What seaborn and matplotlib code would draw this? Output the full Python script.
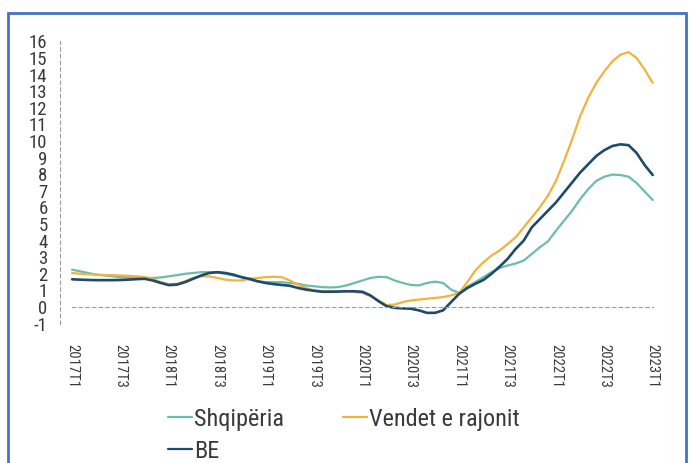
import matplotlib
matplotlib.use("Agg")
import matplotlib.pyplot as plt
import numpy as np
import pandas as pd
import seaborn as sns
from matplotlib.patches import Rectangle
from matplotlib import font_manager

# monthly index 0 = 2017 Jan ... 72 = 2023 Jan
months = list(range(73))

shqiperia = [2.25, 2.15, 2.05, 1.95, 1.9, 1.85, 1.8, 1.78, 1.76, 1.75,
             1.75, 1.78, 1.85, 1.92, 2.0, 2.05, 2.1, 2.1, 2.08, 2.0,
             1.9, 1.8, 1.65, 1.55, 1.5, 1.5, 1.5, 1.45, 1.4, 1.3,
             1.25, 1.2, 1.18, 1.2, 1.3, 1.45, 1.6, 1.75, 1.82, 1.8,
             1.6, 1.45, 1.33, 1.3, 1.45, 1.53, 1.45, 1.05, 0.85, 1.22,
             1.5, 1.8, 2.1, 2.35, 2.5, 2.62, 2.8, 3.2, 3.6, 3.95,
             4.6, 5.2, 5.8, 6.5, 7.1, 7.6, 7.85, 7.98, 7.95, 7.85,
             7.47, 6.95, 6.45]

vendet = [2.05, 2.0, 1.97, 1.95, 1.93, 1.92, 1.9, 1.88, 1.85, 1.8,
          1.7, 1.5, 1.38, 1.4, 1.55, 1.75, 1.85, 1.85, 1.75, 1.65,
          1.6, 1.6, 1.7, 1.75, 1.8, 1.82, 1.8, 1.6, 1.35, 1.15,
          1.0, 0.97, 0.95, 0.95, 0.95, 0.9, 0.85, 0.65, 0.4, 0.12,
          0.15, 0.3, 0.4, 0.45, 0.5, 0.55, 0.6, 0.7, 0.85, 1.5,
          2.2, 2.7, 3.1, 3.4, 3.8, 4.2, 4.8, 5.4, 6.0, 6.7,
          7.6, 8.8, 10.1, 11.5, 12.6, 13.5, 14.2, 14.8, 15.2, 15.35,
          15.0, 14.3, 13.5]

be = [1.67, 1.65, 1.63, 1.62, 1.62, 1.62, 1.63, 1.65, 1.68, 1.7,
      1.6, 1.45, 1.32, 1.35, 1.5, 1.7, 1.9, 2.05, 2.1, 2.05,
      1.95, 1.8, 1.7, 1.55, 1.45, 1.38, 1.33, 1.28, 1.15, 1.05,
      0.98, 0.92, 0.92, 0.93, 0.95, 0.95, 0.92, 0.7, 0.35, 0.05,
      -0.05, -0.08, -0.1, -0.2, -0.35, -0.35, -0.2, 0.3, 0.8, 1.14,
      1.4, 1.63, 2.0, 2.43, 2.9, 3.5, 4.0, 4.8, 5.3, 5.8,
      6.3, 6.9, 7.5, 8.1, 8.6, 9.1, 9.45, 9.7, 9.8, 9.75,
      9.28, 8.55, 7.95]

tick_labels = ["2017T1", "2017T3", "2018T1", "2018T3", "2019T1", "2019T3",
               "2020T1", "2020T3", "2021T1", "2021T3", "2022T1", "2022T3",
               "2023T1"]

series_names = ["Shqipëria", "Vendet e rajonit", "BE"]
colors = {"Shqipëria": "#6cbcae", "Vendet e rajonit": "#f2b23e", "BE": "#1e4a6b"}

df = pd.DataFrame({
    "month": months * 3,
    "value": shqiperia + vendet + be,
    "seria": [series_names[0]] * 73 + [series_names[1]] * 73 + [series_names[2]] * 73,
})

sns.set_style("white")

# look for a narrow font, the original uses a condensed face
names = {f.name for f in font_manager.fontManager.ttflist}
narrow_family = None
for cand in ["Liberation Sans Narrow", "Roboto Condensed", "Open Sans Condensed",
             "DejaVu Sans Condensed", "Noto Sans Condensed"]:
    if cand in names:
        narrow_family = cand
        break
if narrow_family is None:
    narrow_family = "DejaVu Sans"
plt.rcParams["font.family"] = [narrow_family, "DejaVu Sans"]
plt.rcParams["font.stretch"] = "condensed"
text_color = "#3a3a3a"

fig = plt.figure(figsize=(6.91, 4.63), dpi=100)
ax = fig.add_axes([60 / 691, 1 - 325.3 / 463, 600 / 691, (325.3 - 36.4) / 463])

sns.lineplot(data=df, x="month", y="value", hue="seria", palette=colors,
             hue_order=series_names, ax=ax, linewidth=1.6, legend=False)
for line in ax.lines:
    if line.get_color() == colors["BE"]:
        line.set_linewidth(1.9)

ax.set_xlim(-1.5, 72.9)
ax.set_ylim(-1.1, 16.3)
ax.set_xlabel("")
ax.set_ylabel("")

for s in ["top", "right"]:
    ax.spines[s].set_visible(False)
ax.spines["left"].set_linestyle((0, (3, 3)))
ax.spines["left"].set_color("#9a9a9a")
ax.spines["left"].set_linewidth(0.8)
ax.spines["left"].set_bounds(-1, 16)
ax.spines["bottom"].set_position(("data", 0))
ax.spines["bottom"].set_linestyle((0, (3, 3)))
ax.spines["bottom"].set_color("#9a9a9a")
ax.spines["bottom"].set_linewidth(0.8)
ax.spines["bottom"].set_bounds(0, 72)

ax.set_yticks(range(-1, 17))
ax.set_yticklabels([str(v) for v in range(-1, 17)], fontsize=13.5, color=text_color)
ax.set_xticks(range(0, 73, 6))
ax.set_xticks(range(0, 73, 3), minor=True)
ax.set_xticklabels(tick_labels, rotation=270, fontsize=10.5, color=text_color)
ax.tick_params(axis="y", direction="inout", length=4, width=0.7, color="#9a9a9a", pad=7)
ax.tick_params(axis="x", which="both", direction="inout", length=5, width=0.7,
               color="#9a9a9a")
ax.tick_params(axis="x", which="major", pad=24)

handles = [plt.Line2D([], [], color=colors[n], lw=1.6) for n in series_names]
# column-wise fill: Shqipëria, BE | Vendet e rajonit
order = [0, 2, 1]
leg = fig.legend([handles[i] for i in order], [series_names[i] for i in order],
                 loc="upper left", bbox_to_anchor=(168 / 691, 1 - 408 / 463), ncol=2,
                 frameon=False, fontsize=17.5, handlelength=1.0, handletextpad=0.08,
                 columnspacing=2.4, labelspacing=0.36, borderpad=0, borderaxespad=0)
for t in leg.get_texts():
    t.set_color(text_color)

fig.patches.append(Rectangle((8 / 691, -0.02), (686 - 8) / 691, 1 - 13 / 463 + 0.02,
                             transform=fig.transFigure, fill=False,
                             edgecolor="#4472c4", linewidth=2))

fig.savefig("out.png", dpi=100)
